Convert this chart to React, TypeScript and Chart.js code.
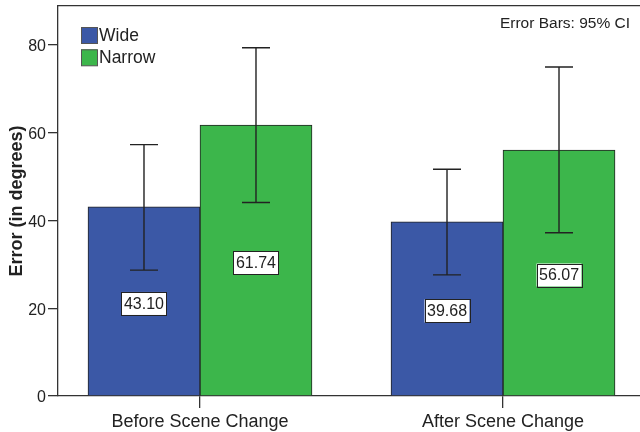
import React, { useEffect, useRef } from "react";
import { Chart, registerables } from "chart.js";

Chart.register(...registerables);

// ---- data ----
const CATEGORIES = ["Before Scene Change", "After Scene Change"];
const CATEGORY_POS = [0, 1];
const SERIES_NAMES = ["Wide", "Narrow"];
const WIDE_VALUES = [43.1, 39.68];
const NARROW_VALUES = [61.74, 56.07];
const WIDE_CI_LOW = [28.7, 27.6];
const WIDE_CI_HIGH = [57.3, 51.7];
const NARROW_CI_LOW = [44.1, 37.2];
const NARROW_CI_HIGH = [79.4, 75.0];
const Y_TICKS = [0, 20, 40, 60, 80];
const Y_TITLE = "Error (in degrees)";
const NOTE = "Error Bars: 95% CI";

// ---- styles ----
const FONT = "'Liberation Sans', Arial, Helvetica, sans-serif";
const BLUE = "#3b58a6";
const GREEN = "#3cb64b";
const INK = "#222222";
const AXIS = "#333333";

const overlayPlugin = {
  id: "overlay",
  afterDatasetsDraw(chart: any) {
    const ctx = chart.ctx;
    const yScale = chart.scales.y;
    const ci = [
      [WIDE_CI_LOW, WIDE_CI_HIGH],
      [NARROW_CI_LOW, NARROW_CI_HIGH],
    ];
    const values = [WIDE_VALUES, NARROW_VALUES];
    ctx.save();
    chart.data.datasets.forEach((_ds: any, di: number) => {
      const meta = chart.getDatasetMeta(di);
      meta.data.forEach((bar: any, i: number) => {
        const x = bar.x;
        const yl = yScale.getPixelForValue(ci[di][0][i]);
        const yh = yScale.getPixelForValue(ci[di][1][i]);
        ctx.strokeStyle = INK;
        ctx.lineWidth = 1.4;
        ctx.beginPath();
        ctx.moveTo(x, yl);
        ctx.lineTo(x, yh);
        ctx.moveTo(x - 14, yl);
        ctx.lineTo(x + 14, yl);
        ctx.moveTo(x - 14, yh);
        ctx.lineTo(x + 14, yh);
        ctx.stroke();
      });
    });
    chart.data.datasets.forEach((_ds: any, di: number) => {
      const meta = chart.getDatasetMeta(di);
      meta.data.forEach((bar: any, i: number) => {
        const v = values[di][i];
        const x = bar.x;
        const ly = yScale.getPixelForValue(v / 2) + 2;
        const w = 45;
        const h = 23;
        ctx.fillStyle = "#ffffff";
        ctx.fillRect(x - w / 2, ly - h / 2, w, h);
        ctx.strokeStyle = INK;
        ctx.lineWidth = 1;
        ctx.strokeRect(Math.round(x - w / 2) + 0.5, Math.round(ly - h / 2) + 0.5, w, h);
        ctx.fillStyle = INK;
        ctx.font = `16px ${FONT}`;
        ctx.textAlign = "center";
        ctx.textBaseline = "middle";
        ctx.fillText(v.toFixed(2), x, ly + 1);
      });
    });
    ctx.restore();
  },
  afterDraw(chart: any) {
    const ctx = chart.ctx;
    ctx.save();
    // legend
    const colors = [BLUE, GREEN];
    SERIES_NAMES.forEach((name, i) => {
      const bx = 81;
      const by = 27 + i * 22.3;
      ctx.fillStyle = colors[i];
      ctx.fillRect(bx, by, 16.5, 16.5);
      ctx.strokeStyle = "#555555";
      ctx.lineWidth = 1;
      ctx.strokeRect(bx + 0.5, by + 0.5, 16, 16);
      ctx.fillStyle = INK;
      ctx.font = `17.5px ${FONT}`;
      ctx.textAlign = "left";
      ctx.textBaseline = "middle";
      ctx.fillText(name, 99, by + 9);
    });
    // note
    ctx.font = `15.5px ${FONT}`;
    ctx.textAlign = "right";
    ctx.textBaseline = "middle";
    ctx.fillStyle = INK;
    ctx.fillText(NOTE, 630, 24);
    ctx.restore();
  },
};

export default function App() {
  const canvasRef = useRef<HTMLCanvasElement | null>(null);

  useEffect(() => {
    if (!canvasRef.current) return;
    const chart = new Chart(canvasRef.current, {
      type: "bar",
      data: {
        datasets: [
          {
            label: SERIES_NAMES[0],
            data: CATEGORY_POS.map((x, i) => ({ x, y: WIDE_VALUES[i] })),
            backgroundColor: BLUE,
            borderColor: INK,
            borderWidth: 1,
            barThickness: 112,
          },
          {
            label: SERIES_NAMES[1],
            data: CATEGORY_POS.map((x, i) => ({ x, y: NARROW_VALUES[i] })),
            backgroundColor: GREEN,
            borderColor: INK,
            borderWidth: 1,
            barThickness: 112,
          },
        ],
      } as any,
      options: {
        responsive: false,
        animation: false,
        devicePixelRatio: 1,
        layout: { padding: { left: 0, right: 0, top: 0, bottom: 0 } },
        plugins: {
          legend: { display: false },
          tooltip: { enabled: false },
        },
        scales: {
          x: {
            type: "linear",
            position: "bottom",
            min: -0.4686,
            max: 1.4521,
            offset: false,
            afterBuildTicks: (s: any) => {
              s.ticks = CATEGORY_POS.map((v) => ({ value: v }));
            },
            afterFit: (s: any) => {
              s.height = 36;
              s.paddingLeft = 0;
              s.paddingRight = 0;
            },
            grid: {
              offset: false,
              drawOnChartArea: false,
              drawTicks: true,
              tickLength: 12,
              color: AXIS,
              lineWidth: 1.3,
            },
            border: { display: true, color: AXIS, width: 1.3 },
            ticks: {
              autoSkip: false,
              maxRotation: 0,
              minRotation: 0,
              padding: 3,
              color: INK,
              font: { family: FONT, size: 18 },
              callback: (_v: any, i: number) => CATEGORIES[i] ?? "",
            },
          },
          x2: {
            type: "linear",
            position: "top",
            min: 0,
            max: 1,
            afterFit: (s: any) => {
              s.height = 6;
              s.paddingLeft = 0;
              s.paddingRight = 0;
            },
            grid: { display: false, drawTicks: false },
            ticks: { display: false },
            border: { display: true, color: AXIS, width: 1.3 },
          },
          y: {
            type: "linear",
            position: "left",
            min: 0,
            max: 88.9,
            afterBuildTicks: (s: any) => {
              s.ticks = Y_TICKS.map((v) => ({ value: v }));
            },
            afterFit: (s: any) => {
              s.width = 58;
              s.paddingTop = 0;
              s.paddingBottom = 0;
            },
            grid: {
              drawOnChartArea: false,
              drawTicks: true,
              tickLength: 10,
              color: AXIS,
              lineWidth: 1.3,
            },
            border: { display: true, color: AXIS, width: 1.3 },
            ticks: {
              padding: 2,
              labelOffset: 2,
              color: INK,
              font: { family: FONT, size: 16 },
            },
            title: {
              display: true,
              text: Y_TITLE,
              color: INK,
              font: { family: FONT, size: 18, weight: "bold" },
              padding: { top: 6, bottom: 0 },
            },
          },
        },
      } as any,
      plugins: [overlayPlugin],
    });
    return () => chart.destroy();
  }, []);

  return (
    <div style={{ position: "absolute", left: 0, top: 0, width: 640, height: 432, background: "#ffffff" }}>
      <canvas ref={canvasRef} width={640} height={432} style={{ display: "block" }} />
    </div>
  );
}
